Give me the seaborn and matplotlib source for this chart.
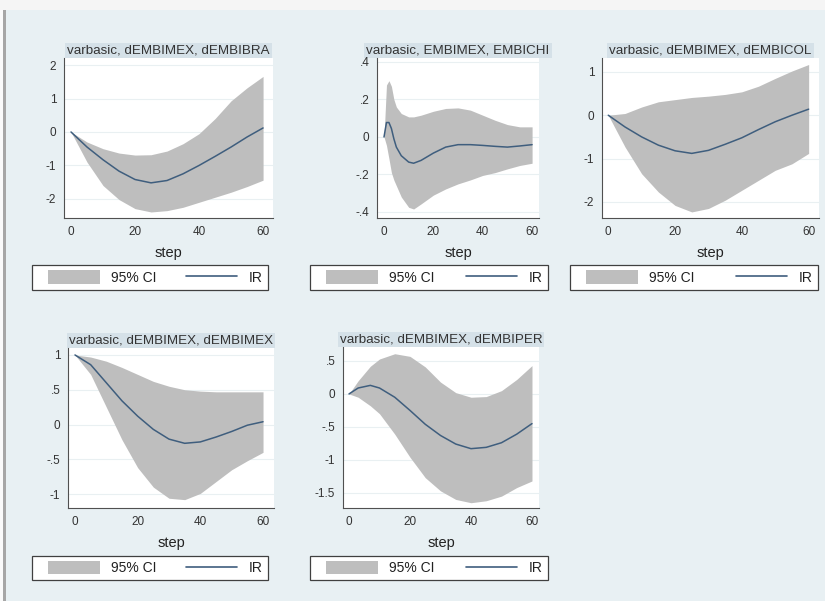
import matplotlib
matplotlib.use("Agg")
import matplotlib.pyplot as plt
import seaborn as sns
import pandas as pd
from matplotlib.patches import Rectangle, Patch
from matplotlib.lines import Line2D

sns.set_style("white")
plt.rcParams["font.family"] = ["Liberation Sans", "DejaVu Sans"]

W, H = 825, 601

# ---------------- data ----------------
titles = ["varbasic, dEMBIMEX, dEMBIBRA", "varbasic, EMBIMEX, EMBICHI",
          "varbasic, dEMBIMEX, dEMBICOL", "varbasic, dEMBIMEX, dEMBIMEX",
          "varbasic, dEMBIMEX, dEMBIPER"]

steps_bra = [0, 5, 10, 15, 20, 25, 30, 35, 40, 45, 50, 55, 60]
ir_bra = [0, -0.45, -0.83, -1.17, -1.42, -1.52, -1.45, -1.25, -1.0, -0.73, -0.45, -0.15, 0.12]
up_bra = [0, -0.3, -0.5, -0.63, -0.69, -0.68, -0.57, -0.35, -0.05, 0.4, 0.93, 1.32, 1.66]
lo_bra = [0, -0.9, -1.6, -2.02, -2.29, -2.39, -2.35, -2.25, -2.1, -1.95, -1.8, -1.63, -1.44]

steps_chi = [0, 1, 2, 3, 4, 5, 7, 10, 12, 15, 20, 25, 30, 35, 40, 45, 50, 55, 60]
ir_chi = [0, 0.077, 0.077, 0.045, -0.01, -0.054, -0.10, -0.134, -0.14, -0.125, -0.086,
          -0.054, -0.041, -0.041, -0.045, -0.05, -0.054, -0.048, -0.041]
up_chi = [0, 0.277, 0.30, 0.27, 0.20, 0.16, 0.125, 0.107, 0.107, 0.116, 0.137,
          0.152, 0.155, 0.143, 0.116, 0.089, 0.066, 0.054, 0.054]
lo_chi = [0, -0.045, -0.116, -0.19, -0.23, -0.26, -0.32, -0.375, -0.384, -0.357, -0.31,
          -0.277, -0.25, -0.229, -0.205, -0.19, -0.17, -0.152, -0.14]

steps_col = [0, 5, 10, 15, 20, 25, 30, 35, 40, 45, 50, 55, 60]
ir_col = [0, -0.27, -0.50, -0.69, -0.82, -0.88, -0.81, -0.67, -0.52, -0.33, -0.15, 0, 0.14]
up_col = [0, 0.04, 0.19, 0.31, 0.36, 0.41, 0.44, 0.48, 0.54, 0.67, 0.85, 1.02, 1.17]
lo_col = [0, -0.73, -1.35, -1.77, -2.08, -2.23, -2.15, -1.96, -1.73, -1.5, -1.27, -1.12, -0.88]

steps_mex = [0, 5, 10, 15, 20, 25, 30, 35, 40, 45, 50, 55, 60]
ir_mex = [1, 0.86, 0.60, 0.34, 0.12, -0.07, -0.21, -0.27, -0.25, -0.18, -0.10, -0.01, 0.04]
up_mex = [1, 0.97, 0.91, 0.82, 0.72, 0.62, 0.55, 0.50, 0.48, 0.47, 0.47, 0.47, 0.47]
lo_mex = [1, 0.72, 0.25, -0.22, -0.62, -0.90, -1.06, -1.08, -0.99, -0.82, -0.65, -0.52, -0.40]

steps_per = [0, 3, 7, 10, 15, 20, 25, 30, 35, 40, 45, 50, 55, 60]
ir_per = [0, 0.09, 0.13, 0.09, -0.05, -0.25, -0.46, -0.63, -0.76, -0.83, -0.81, -0.74, -0.61, -0.45]
up_per = [0, 0.2, 0.42, 0.53, 0.61, 0.57, 0.41, 0.18, 0.02, -0.05, -0.04, 0.05, 0.22, 0.43]
lo_per = [0, -0.05, -0.18, -0.3, -0.61, -0.96, -1.27, -1.47, -1.6, -1.65, -1.62, -1.55, -1.42, -1.32]

xticks = [0, 20, 40, 60]
yticks_bra = [-2, -1, 0, 1, 2]
ylabels_bra = ["-2", "-1", "0", "1", "2"]
yticks_chi = [-0.4, -0.2, 0, 0.2, 0.4]
ylabels_chi = ["-.4", "-.2", "0", ".2", ".4"]
yticks_col = [-2, -1, 0, 1]
ylabels_col = ["-2", "-1", "0", "1"]
yticks_mex = [-1, -0.5, 0, 0.5, 1]
ylabels_mex = ["-1", "-.5", "0", ".5", "1"]
yticks_per = [-1.5, -1, -0.5, 0, 0.5]
ylabels_per = ["-1.5", "-1", "-.5", "0", ".5"]

legend_labels = ["95% CI", "IR"]

# ---------------- layout (pixels) ----------------
panels = [
    dict(steps=steps_bra, ir=ir_bra, up=up_bra, lo=lo_bra, yt=yticks_bra, yl=ylabels_bra,
         rect=(64, 58, 273, 218), xlim=(-2.19, 63.1), ylim=(-2.57, 2.21), leg=(32, 265, 268, 290)),
    dict(steps=steps_chi, ir=ir_chi, up=up_chi, lo=lo_chi, yt=yticks_chi, yl=ylabels_chi,
         rect=(377, 58, 539, 218), xlim=(-2.84, 62.8), ylim=(-0.432, 0.421), leg=(310, 265, 548, 290)),
    dict(steps=steps_col, ir=ir_col, up=up_col, lo=lo_col, yt=yticks_col, yl=ylabels_col,
         rect=(602, 58, 819, 218), xlim=(-1.88, 63.1), ylim=(-2.37, 1.32), leg=(570, 265, 818, 290)),
    dict(steps=steps_mex, ir=ir_mex, up=up_mex, lo=lo_mex, yt=yticks_mex, yl=ylabels_mex,
         rect=(68, 348, 274, 508), xlim=(-2.23, 63.5), ylim=(-1.2, 1.1), leg=(32, 556, 268, 580)),
    dict(steps=steps_per, ir=ir_per, up=up_per, lo=lo_per, yt=yticks_per, yl=ylabels_per,
         rect=(343, 347, 539, 508), xlim=(-1.97, 62.3), ylim=(-1.73, 0.712), leg=(310, 556, 548, 580)),
]

BG = "#E8F0F3"
BAND = "#BEBEBE"
LINE = "#3F5E7E"
TITLEBG = "#D5E1E8"
AXC = "#505050"

fig = plt.figure(figsize=(W / 100, H / 100), dpi=100)
fig.patch.set_facecolor(BG)

# screenshot edges
fig.patches.append(Rectangle((0, 1 - 10 / H), 1, 10 / H, transform=fig.transFigure,
                             fc="#F5F5F5", ec="none", zorder=-2))
fig.patches.append(Rectangle((0, 0), 3 / W, 1 - 10 / H, transform=fig.transFigure,
                             fc="#FAFAFA", ec="none", zorder=-2))
fig.patches.append(Rectangle((3 / W, 0), 3 / W, 1 - 10 / H, transform=fig.transFigure,
                             fc="#A6A6A6", ec="none", zorder=-2))

title_texts = []
for i, p in enumerate(panels):
    l, t, r, b = p["rect"]
    ax = fig.add_axes([l / W, 1 - b / H, (r - l) / W, (b - t) / H])
    ax.set_facecolor("white")
    df = pd.DataFrame({"step": p["steps"], "ir": p["ir"], "up": p["up"], "lo": p["lo"]})
    ax.fill_between(df["step"], df["lo"], df["up"], color=BAND, lw=0, zorder=2)
    sns.lineplot(data=df, x="step", y="ir", ax=ax, color=LINE, lw=1.1, zorder=3)
    ax.set_xlim(*p["xlim"])
    ax.set_ylim(*p["ylim"])
    ax.set_xticks(xticks)
    ax.set_xticklabels([str(v) for v in xticks])
    ax.set_yticks(p["yt"])
    ax.set_yticklabels(p["yl"])
    for s in ["top", "right"]:
        ax.spines[s].set_visible(False)
    for s in ["left", "bottom"]:
        ax.spines[s].set_color(AXC)
        ax.spines[s].set_linewidth(0.8)
    ax.tick_params(axis="both", direction="out", length=3.5, width=0.8, color=AXC,
                   labelsize=8.5, labelcolor="#333333", pad=2)
    ax.yaxis.grid(True, color="#E9F0F2", lw=0.8)
    ax.xaxis.grid(False)
    ax.set_axisbelow(True)
    ax.set_xlabel("step", fontsize=10.5, color="#222222", labelpad=6)
    ax.set_ylabel("")

    # title with band
    cx = (l + r) / 2
    txt = fig.text(cx / W, 1 - (t - 7.5) / H, titles[i], ha="center", va="center",
                   fontsize=9.6, color="#333333", zorder=5)
    title_texts.append((txt, t))

    # legend: frame drawn separately (behind), content placed inside
    ll, lt, lr, lb = p["leg"]
    fig.patches.append(Rectangle((ll / W, 1 - lb / H), (lr - ll) / W, (lb - lt) / H,
                                 transform=fig.transFigure, fc="white", ec="#404040",
                                 lw=0.9, zorder=-1))
    handles = [Patch(facecolor=BAND, edgecolor="none"), Line2D([], [], color=LINE, lw=1.2)]
    il, ir_ = ll + 12, lr - 1
    leg = ax.legend(handles, legend_labels, loc="center", ncol=2, mode="expand",
                    bbox_to_anchor=(il / W, 1 - lb / H, (ir_ - il) / W, (lb - lt) / H),
                    bbox_transform=fig.transFigure, frameon=False,
                    fontsize=10, handlelength=3.7, handleheight=1.1, handletextpad=0.85,
                    columnspacing=2.4, borderpad=0.3, borderaxespad=0)
    for tx in leg.get_texts():
        tx.set_color("#222222")

fig.canvas.draw()
renderer = fig.canvas.get_renderer()
for txt, t in title_texts:
    bb = txt.get_window_extent(renderer)
    x0 = bb.x0 - 2
    x1 = bb.x1 + 2
    fig.patches.append(Rectangle((x0 / W, 1 - t / H), (x1 - x0) / W, 15 / H,
                                 transform=fig.transFigure, fc=TITLEBG, ec="none", zorder=-1))

fig.savefig("out.png", dpi=100, facecolor=fig.get_facecolor())
